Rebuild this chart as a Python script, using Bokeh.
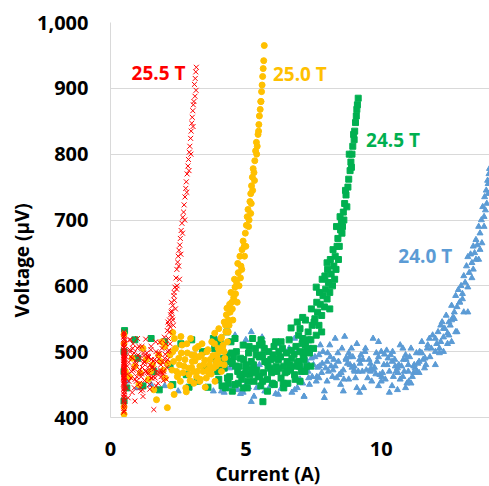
from bokeh.plotting import figure
from bokeh.models import NumeralTickFormatter, Range1d, Label, FixedTicker, Title
from bokeh.embed import file_html
from bokeh.resources import INLINE

# ---------------- data ----------------
field_labels = ["25.5 T", "25.0 T", "24.5 T", "24.0 T"]
series_colors = ["#FF0000", "#FFC000", "#00B050", "#5B9BD5"]
x_ticks = [0, 5, 10]
y_ticks = [400, 500, 600, 700, 800, 900, 1000]
x_title = "Current (A)"
y_title = "Voltage (µV)"

# 25.5 T (red crosses)
red_current = [
    0.49, 0.5, 0.51, 0.5, 0.49, 0.5, 0.51, 0.5, 0.5, 0.49, 0.51, 0.5, 0.5, 0.49, 0.5, 0.51, 0.5, 0.49,
    0.5, 0.51, 0.5, 0.5, 0.49, 0.51, 0.5, 0.5, 0.49, 0.5, 0.51, 0.5, 0.5, 0.49, 0.51, 0.5, 0.5, 0.5,
    0.5, 0.51, 0.49, 0.5, 0.5, 0.51, 0.49, 0.5, 0.5, 0.51, 0.49, 0.5, 0.5, 0.51, 0.49, 0.5,
    0.5, 0.51, 0.49, 0.5, 0.5, 0.51, 0.49, 0.5, 0.5, 0.51, 0.49, 0.5, 0.5, 0.51, 0.49, 0.5,
    0.62, 0.68, 0.72, 0.78, 0.83, 0.88, 0.93, 0.97, 1.02, 1.07, 1.12, 1.16, 1.21, 1.26, 1.3, 1.35, 1.4,
    1.44, 1.49, 1.53, 1.58, 1.63, 1.67, 1.72, 1.76, 1.81, 1.86, 1.9, 1.95, 2.0, 2.04, 2.08, 2.12,
    0.65, 0.75, 0.85, 0.95, 1.05, 1.15, 1.25, 1.34, 1.45, 1.55, 1.65, 1.75, 1.85, 1.95, 2.05,
    0.7, 0.9, 1.1, 1.3, 1.5, 1.7, 1.9, 0.8, 1.2, 1.6, 1.0, 1.4,
    0.58, 0.63, 0.67, 0.71, 0.76, 0.8, 0.84, 0.87, 0.91, 0.96, 1.0, 1.04, 1.09, 1.13, 1.18, 1.22,
    1.27, 1.31, 1.36, 1.41, 1.46, 1.5, 1.54, 1.59, 1.62, 1.68, 1.73, 1.78, 1.82, 1.87, 1.92, 1.97,
    2.02, 2.06, 2.11, 2.16, 2.2, 0.6, 0.74, 0.92, 1.08, 1.24, 1.38, 1.52, 1.69, 1.83, 1.99, 2.14,
    0.82, 1.18,
    2.1, 2.15, 2.18, 2.22, 2.2, 2.26, 2.3, 2.28, 2.34, 2.38, 2.36, 2.42, 2.45, 2.48, 2.5, 2.53, 2.56,
    2.58, 2.61, 2.64, 2.67, 2.7, 2.72, 2.75, 2.78, 2.8, 2.83, 2.86, 2.88, 2.91, 2.93, 2.96, 2.98, 3.0,
    3.02, 3.04, 3.06, 3.08, 3.1, 3.13, 3.15, 3.17, 3.16,
    2.12, 2.18, 2.24, 2.3, 2.35, 2.4, 2.46, 2.52, 2.55, 2.6, 2.66, 2.74, 2.82, 2.9, 2.97, 3.05, 3.12,
    2.25, 2.32, 2.44]
red_voltage = [
    408, 414, 421, 427, 431, 436, 440, 444, 447, 451, 454, 457, 460, 463, 466, 468, 471, 473,
    475, 477, 479, 481, 484, 486, 489, 491, 494, 497, 500, 503, 506, 510, 514, 519, 524, 530,
    410, 418, 424, 430, 434, 439, 443, 449, 452, 456, 459, 462, 465, 469, 472, 476,
    480, 483, 487, 492, 495, 498, 502, 507, 512, 517, 522, 527, 474, 488, 461, 499,
    478, 455, 500, 470, 512, 445, 486, 462, 495, 473, 440, 508, 482, 456, 519, 468, 491,
    450, 503, 475, 462, 488, 515, 470, 452, 497, 480, 505, 466, 490, 512, 476, 500,
    430, 492, 475, 455, 508, 466, 484, 498, 443, 478, 460, 497, 472, 456, 485,
    518, 425, 446, 470, 460, 485, 468, 438, 432, 412, 520, 493,
    492, 466, 484, 503, 460, 490, 472, 498, 458, 482, 505, 468, 490, 462, 476, 498,
    485, 470, 493, 467, 480, 508, 460, 486, 474, 500, 466, 489, 514, 462, 484, 470,
    496, 458, 488, 502, 512, 445, 518, 480, 452, 494, 476, 488, 448, 468, 522, 520,
    505, 442,
    532, 541, 548, 556, 538, 562, 570, 552, 585, 598, 578, 612, 625, 636, 645, 654, 662,
    672, 684, 695, 704, 712, 723, 735, 748, 758, 770, 782, 792, 803, 812, 824, 835, 847,
    856, 866, 875, 880, 906, 915, 925, 932, 897,
    545, 530, 560, 548, 590, 565, 600, 630, 610, 648, 680, 700, 742, 775, 800, 842, 888,
    575, 540, 595]

# 25.0 T (orange circles)
orange_current = [
    0.5, 0.5, 0.5, 0.5, 0.55,
    0.7, 0.9, 1.05, 1.2, 1.32, 1.48, 1.6, 1.78, 1.9, 2.02, 2.12, 2.22, 2.3, 2.36, 2.44, 2.52, 2.58,
    2.64, 2.72, 2.78, 2.84, 2.9, 2.96, 3.02, 3.08, 3.14, 3.2, 3.26, 3.32, 3.38, 3.44, 3.5, 3.56,
    3.62, 3.68, 3.74, 3.8, 3.86, 3.92, 3.98, 4.04, 4.1, 4.16, 4.22,
    1.7, 2.1, 2.35, 2.8, 2.6, 2.3, 1.4, 1.85, 2.5, 3.0, 3.3, 3.6, 3.9, 4.2, 3.1, 2.0,
    2.2, 2.27, 2.33, 2.4, 2.47, 2.55, 2.62, 2.68, 2.75, 2.82, 2.88, 2.94, 3.0, 3.06, 3.12, 3.18,
    3.24, 3.3, 3.36, 3.42, 3.48, 3.54, 3.6, 3.66, 3.72, 3.78, 3.84, 3.9, 3.96, 4.02, 4.08, 4.14,
    4.2, 4.26, 4.32, 4.38, 1.1, 1.55, 0.8, 1.95,
    3.85, 4.0, 4.1, 4.2, 4.28, 4.35, 4.3, 4.42, 4.48, 4.45, 4.55, 4.6, 4.58, 4.66, 4.72, 4.7, 4.78,
    4.82, 4.86, 4.9, 4.94, 4.98, 5.02, 5.05, 5.08, 5.12, 5.15, 5.18, 5.21, 5.24, 5.27, 5.3, 5.33,
    5.36, 5.39, 5.42, 5.45, 5.48, 5.5, 5.53, 5.56, 5.58, 5.6, 5.62, 5.64, 5.66, 5.68,
    4.25, 4.4, 4.5, 4.62, 4.75, 4.85, 4.95, 5.0, 5.1, 5.18, 5.25, 5.32, 5.4, 5.47, 5.55,
    4.35, 4.52, 4.68, 4.8, 5.2]
orange_voltage = [
    405, 416, 512, 526, 470,
    462, 478, 450, 505, 488, 470, 442, 495, 515, 460, 482, 448, 500, 520, 470, 490, 455,
    510, 478, 445, 498, 465, 520, 485, 452, 505, 470, 492, 458, 512, 480, 446, 500,
    468, 488, 515, 475, 455, 495, 505, 482, 470, 510, 490,
    427, 415, 435, 439, 523, 529, 458, 485, 466, 476, 455, 472, 484, 500, 495, 508,
    495, 472, 485, 505, 462, 480, 498, 468, 488, 512, 475, 456, 495, 470, 486, 462,
    508, 478, 495, 470, 487, 460, 503, 480, 466, 494, 512, 478, 488, 500, 520, 505,
    480, 530, 515, 540, 468, 480, 490, 472,
    528, 535, 522, 545, 556, 548, 566, 560, 575, 590, 582, 598, 610, 605, 620, 634, 645,
    630, 655, 668, 660, 680, 692, 705, 716, 700, 728, 740, 752, 765, 778, 772, 790,
    805, 818, 812, 830, 845, 858, 868, 880, 895, 905, 918, 930, 942, 965,
    540, 572, 565, 588, 600, 625, 645, 660, 690, 710, 745, 760, 800, 835, 880,
    530, 548, 575, 612, 725]

# 24.5 T (green squares)
green_current = [
    0.5, 0.5, 0.5, 0.52, 0.6, 0.9, 1.2, 1.5, 1.8, 2.0, 2.3, 2.6, 2.9, 3.0, 3.2, 3.4, 3.6, 3.8,
    1.0, 1.6, 2.2, 2.8, 3.5,
    3.9, 4.0, 4.1, 4.2, 4.25, 4.3, 4.4, 4.45, 4.5, 4.6, 4.65, 4.7, 4.8, 4.85, 4.9, 5.0, 5.05, 5.1,
    5.15, 5.2, 5.3, 5.35, 5.4, 5.5, 5.55, 5.6, 5.65, 5.7, 5.8, 5.85, 5.9, 6.0, 6.05, 6.1, 6.15, 6.2,
    6.3, 6.35, 6.4, 6.5, 6.55, 6.6, 6.65, 6.7, 6.8, 6.85, 6.9, 7.0, 7.05, 7.1,
    3.95, 4.15, 4.35, 4.55, 4.75, 4.95, 5.12, 5.28, 5.45, 5.62, 5.78, 5.95, 6.12, 6.28, 6.45, 6.62,
    6.78, 6.95, 7.12, 7.2, 4.05, 4.5, 4.9, 5.25, 5.63, 5.56, 6.04, 6.67, 6.9, 7.25, 5.0, 5.8, 6.4,
    7.0, 4.3,
    3.85, 4.02, 4.18, 4.32, 4.48, 4.62, 4.78, 4.92, 5.08, 5.22, 5.38, 5.52, 5.68, 5.82, 5.98, 6.08,
    6.22, 6.38, 6.52, 6.68, 6.82, 6.98, 7.08, 7.18, 7.28, 4.12, 4.42, 4.72, 5.02, 5.32, 5.62, 5.92,
    6.22, 6.52, 6.82, 7.12, 4.6, 5.5, 6.3, 6.95,
    7.15, 7.22, 7.3, 7.35, 7.4, 7.45, 7.5, 7.55, 7.6, 7.65, 7.7, 7.75, 7.8, 7.85, 7.9, 7.95, 8.0,
    8.05, 8.1, 8.15, 8.2, 8.25, 8.3, 8.33, 8.37, 8.4, 8.45, 8.5, 8.53, 8.57, 8.6, 8.65, 8.7, 8.73,
    8.77, 8.8, 8.85, 8.88, 8.92, 8.95, 9.0, 9.02, 9.05, 9.08, 9.1, 9.12, 9.15, 7.4, 7.8, 8.1,
    7.0, 7.2, 7.32, 7.42, 7.52, 7.62, 7.72, 7.82, 7.92, 8.02, 8.12, 8.22, 8.28, 8.35, 8.42, 8.48,
    8.55, 8.62, 8.68, 8.82, 8.9, 8.98, 7.1, 7.6, 8.0]
green_voltage = [
    425, 470, 500, 532, 445, 518, 448, 520, 442, 515, 450, 512, 446, 518, 455, 500, 446, 520,
    490, 470, 480, 465, 475,
    488, 458, 505, 475, 445, 495, 462, 515, 482, 450, 500, 470, 490, 458, 510, 478, 445, 498,
    465, 485, 455, 505, 472, 492, 448, 512, 468, 485, 458, 500, 475, 495, 450, 515, 470, 488,
    460, 505, 478, 498, 452, 518, 472, 490, 465, 508, 482, 500, 470, 520,
    470, 482, 452, 492, 478, 466, 508, 480, 462, 495, 484, 468, 478, 492, 468, 480,
    496, 485, 492, 510, 515, 440, 445, 520, 424, 518, 508, 536, 545, 478, 470, 440, 445,
    455, 530,
    505, 472, 490, 460, 498, 478, 465, 488, 455, 472, 495, 462, 505, 478, 452, 490,
    475, 452, 485, 502, 458, 478, 512, 470, 505, 448, 485, 452, 480, 468, 455, 488,
    500, 470, 478, 498, 520, 510, 515, 525,
    488, 500, 530, 498, 518, 540, 505, 550, 525, 560, 540, 572, 555, 585, 568, 595, 580,
    605, 590, 618, 600, 630, 645, 625, 660, 672, 660, 685, 698, 690, 712, 725, 738, 720,
    750, 762, 775, 788, 800, 812, 822, 835, 848, 858, 868, 875, 885, 478, 530, 565,
    535, 548, 518, 565, 545, 575, 590, 610, 615, 625, 640, 655, 610, 690, 640, 705,
    680, 700, 745, 800, 780, 830, 552, 598, 635]

# 24.0 T (blue triangles)
blue_current = [
    0.6, 1.0, 1.5, 2.0, 2.5, 3.0, 3.5, 3.8, 4.0, 4.2, 4.5, 4.6, 4.8, 5.0, 5.2, 5.2, 5.4, 5.6, 5.8,
    6.0, 6.2, 6.4, 6.6, 6.8, 7.0, 7.15, 7.2, 4.4, 5.5, 6.5, 3.9, 6.9,
    3.6, 4.1, 4.3, 4.7, 4.9, 5.1, 5.3, 5.7, 5.9, 6.1, 6.3, 6.5, 6.7, 6.9, 7.1, 4.4, 5.0, 5.6, 6.2, 6.8,
    7.3, 7.4, 7.5, 7.6, 7.7, 7.8, 7.9, 8.0, 8.1, 8.2, 8.3, 8.4, 8.5, 8.6, 8.7, 8.8, 8.9, 9.0, 9.1,
    9.2, 9.3, 9.4, 9.5, 9.6, 9.7, 9.8, 9.9, 10.0, 10.1, 10.2, 10.3, 10.4, 10.5, 10.6, 10.7, 10.8,
    10.9, 11.0, 11.1, 11.2, 11.3, 11.4, 11.5, 11.6, 11.7, 11.8,
    7.25, 7.45, 7.65, 7.85, 8.05, 8.25, 8.45, 8.65, 8.85, 9.05, 9.25, 9.45, 9.65, 9.85, 10.05,
    10.25, 10.45, 10.65, 10.85, 11.05, 11.25, 11.45, 11.65, 7.35, 7.75, 8.15, 8.55, 8.95, 9.35,
    9.75, 10.15, 10.55, 10.95, 11.35, 8.7, 9.2, 10.3, 10.9, 7.15, 9.9, 10.7, 11.0,
    7.55, 7.95, 8.35, 8.75, 9.15, 9.55, 9.95, 10.35, 10.75, 11.15, 11.55, 8.0, 8.8, 9.6, 10.4,
    11.2, 7.7, 9.0, 10.0, 11.4,
    7.22, 7.42, 7.62, 7.82, 8.02, 8.22, 8.42, 8.62, 8.82, 9.02, 9.22, 9.42, 9.62, 9.82, 10.02,
    10.22, 10.42, 10.62, 10.82, 11.02, 11.22, 11.42, 11.62, 11.78, 7.32, 7.72, 8.12, 8.52, 8.92,
    9.32, 9.72, 10.12, 10.52, 10.92, 11.32, 11.72, 8.3, 9.1, 9.9, 10.6, 11.1, 7.9, 8.6, 10.8, 11.5,
    11.9, 12.0, 12.05, 12.1, 12.15, 12.2, 12.25, 12.3, 12.35, 12.4, 12.45, 12.5, 12.55, 12.6,
    12.65, 12.7, 12.75, 12.8, 12.85, 12.9, 12.95, 13.0, 13.05, 13.1, 13.15, 13.2, 13.25, 13.3,
    13.35, 13.4, 13.45, 13.5, 13.55, 13.6, 13.65, 13.7, 13.72, 13.75, 13.8, 13.82, 13.85, 13.88,
    13.9, 13.93, 13.95, 13.98, 14.0, 12.3, 12.8, 13.2, 13.6, 12.0, 12.6,
    11.85, 12.0, 12.15, 12.3, 12.45, 12.6, 12.75, 12.9, 13.05, 13.2, 13.35, 13.5, 13.65, 13.8,
    13.95, 12.2, 12.5, 12.7, 13.0, 13.4]
blue_voltage = [
    455, 445, 450, 448, 440, 452, 500, 440, 455, 438, 448, 525, 436, 450, 424, 530, 445, 512, 440,
    452, 435, 448, 505, 442, 458, 432, 490, 475, 480, 470, 520, 500,
    445, 440, 450, 442, 438, 446, 432, 440, 448, 436, 444, 450, 438, 445, 452, 515, 518, 522, 512, 520,
    470, 505, 480, 455, 495, 468, 440, 485, 510, 462, 478, 498, 450, 472, 490, 458, 505, 478, 445,
    488, 470, 500, 460, 482, 520, 466, 492, 455, 480, 502, 470, 448, 488, 475, 510, 462,
    495, 480, 505, 468, 498, 485, 515, 475, 505, 492,
    485, 462, 476, 500, 470, 488, 465, 523, 480, 460, 495, 472, 455, 485, 468,
    490, 462, 480, 470, 492, 475, 498, 480, 450, 510, 478, 505, 492, 445,
    476, 458, 470, 452, 482, 488, 438, 438, 445, 432, 515, 458, 470,
    492, 475, 460, 482, 470, 488, 465, 495, 478, 462, 488, 455, 498, 470, 485,
    478, 460, 472, 500, 468,
    478, 490, 462, 482, 498, 472, 485, 458, 492, 470, 482, 505, 475, 498, 462,
    480, 500, 468, 488, 455, 480, 500, 490, 520, 460, 478, 492, 468, 476,
    488, 472, 496, 478, 488, 470, 510, 520, 512, 448, 442, 452, 430, 440, 505, 498,
    525, 500, 512, 530, 505, 515, 545, 522, 535, 555, 528, 545, 540, 570,
    552, 560, 585, 568, 594, 575, 600, 588, 615, 605, 630, 644, 620, 648,
    635, 660, 650, 670, 662, 690, 680, 700, 665, 720, 705, 735, 715, 745,
    725, 760, 740, 770, 778, 500, 530, 560, 640, 480, 515,
    505, 520, 498, 535, 512, 548, 530, 575, 560, 598, 612, 640, 655, 690,
    755, 540, 525, 550, 580, 625]

assert len(red_current) == len(red_voltage), (len(red_current), len(red_voltage))
assert len(orange_current) == len(orange_voltage), (len(orange_current), len(orange_voltage))
assert len(green_current) == len(green_voltage), (len(green_current), len(green_voltage))
assert len(blue_current) == len(blue_voltage), (len(blue_current), len(blue_voltage))

FONT = "Open Sans"

p = figure(width=489, height=486, output_backend="svg", toolbar_location=None,
           x_range=Range1d(0, 14), y_range=Range1d(400, 1000),
           min_border_left=110, min_border_right=0, min_border_top=22, min_border_bottom=68)
p.outline_line_color = None
p.background_fill_color = "white"
p.border_fill_color = "white"

# draw order: blue, green, orange, red on top
p.scatter(blue_current, blue_voltage, marker="triangle", size=6,
          fill_color=series_colors[3], line_color=series_colors[3])
p.scatter(green_current, green_voltage, marker="square", size=6,
          fill_color=series_colors[2], line_color=series_colors[2])
p.scatter(orange_current, orange_voltage, marker="circle", size=6,
          fill_color=series_colors[1], line_color=series_colors[1])
p.scatter(red_current, red_voltage, marker="x", size=7,
          line_color=series_colors[0], line_width=1)

# axes
p.xaxis.ticker = FixedTicker(ticks=x_ticks)
p.yaxis.ticker = FixedTicker(ticks=y_ticks)
p.yaxis.formatter = NumeralTickFormatter(format="0,0")
for ax in (p.xaxis[0], p.yaxis[0]):
    ax.axis_line_color = "#D9D9D9"
    ax.axis_line_width = 1
    ax.major_tick_line_color = None
    ax.minor_tick_line_color = None
    ax.major_tick_out = 0
    ax.major_tick_in = 0
    ax.major_label_text_font = FONT
    ax.major_label_text_font_style = "bold"
    ax.major_label_text_font_size = "20px"
    ax.major_label_text_color = "black"
p.yaxis.major_label_standoff = 22
p.xaxis.major_label_standoff = 24

p.xgrid.grid_line_color = None
p.ygrid.grid_line_color = "#D9D9D9"
p.ygrid.grid_line_width = 1

# axis titles, positioned along their axes as in the reference
p.add_layout(Title(text=x_title, align="left", offset=105, standoff=0,
                   text_font=FONT, text_font_style="bold", text_font_size="19px",
                   text_color="black"), "below")
p.add_layout(Title(text=y_title, align="left", offset=100, standoff=0,
                   text_font=FONT, text_font_style="bold", text_font_size="19px",
                   text_color="black"), "left")

# series labels
label_pos = [(0.78, 923), (6.0, 922), (9.44, 822), (10.63, 646)]
for (lx, ly), txt, col in zip(label_pos, field_labels, series_colors):
    p.add_layout(Label(x=lx, y=ly, text=txt, text_color=col, text_font=FONT,
                       text_font_style="bold", text_font_size="19px",
                       text_baseline="middle", text_align="left"))

open("out.html", "w").write(file_html(p, INLINE))
